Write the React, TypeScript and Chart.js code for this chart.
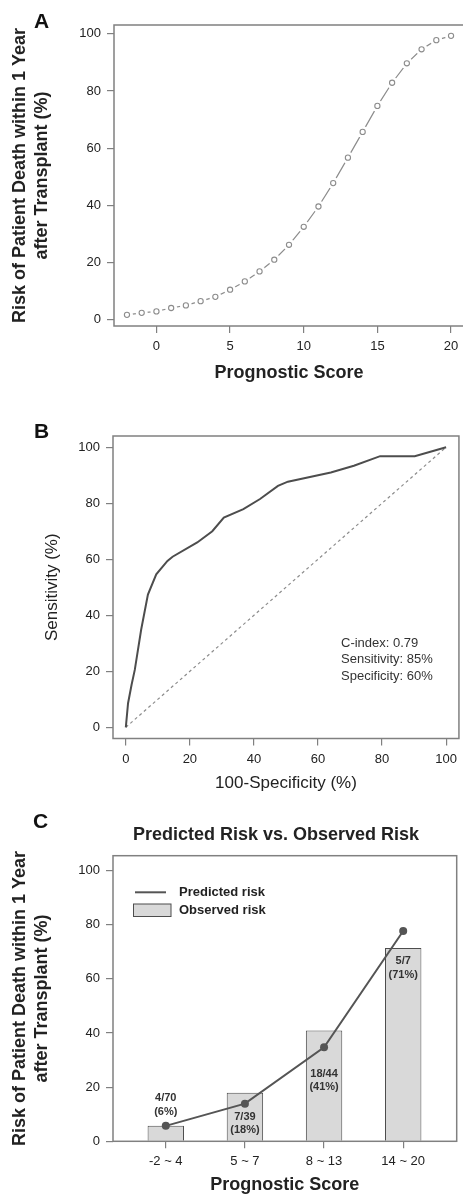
import React, { useEffect, useRef } from "react";
import { Chart, registerables } from "chart.js";

Chart.register(...registerables);

const FONT = "'Liberation Sans', Arial, Helvetica, sans-serif";

// ---------- Panel A: prognostic score vs predicted risk ----------
const scoreValues = [-2, -1, 0, 1, 2, 3, 4, 5, 6, 7, 8, 9, 10, 11, 12, 13, 14, 15, 16, 17, 18, 19, 20];
const riskValues = [1.7, 2.4, 2.9, 4.1, 5.0, 6.5, 8.0, 10.5, 13.4, 16.9, 21.0, 26.2, 32.5, 39.6, 47.8, 56.7, 65.7, 74.8, 82.9, 89.7, 94.6, 97.8, 99.3];
const scoreTicks = [0, 5, 10, 15, 20];
const riskTicks = [0, 20, 40, 60, 80, 100];

// ---------- Panel B: ROC curve ----------
const fprValues = [0, 0.7, 1.8, 2.8, 4.8, 6.9, 9.5, 13, 14.6, 22.3, 27, 30.6, 36.7, 41.9, 47.5, 50.6, 64, 71.2, 79.4, 90.2, 100];
const tprValues = [0, 8.6, 15.2, 20.5, 34.9, 47.4, 54.6, 59.4, 60.9, 66, 70, 74.9, 77.9, 81.5, 86.2, 87.7, 91, 93.4, 96.8, 96.8, 100];
const chanceLine = [0, 100];
const rocTicks = [0, 20, 40, 60, 80, 100];
const statLines = ["C-index: 0.79", "Sensitivity: 85%", "Specificity: 60%"];

// ---------- Panel C: predicted vs observed ----------
const scoreGroups = ["-2 ~ 4", "5 ~ 7", "8 ~ 13", "14 ~ 20"];
const observedRisk = [5.7, 17.9, 40.9, 71.4];
const predictedRisk = [5.7, 13.9, 34.7, 77.7];
const countLabels = ["4/70", "7/39", "18/44", "5/7"];
const pctLabels = ["(6%)", "(18%)", "(41%)", "(71%)"];
const labelAnchors = [15.9, 9.1, 24.9, 66.6];
const riskTicksC = [0, 20, 40, 60, 80, 100];

const AXIS_GRAY = "#808080";
const TEXT_DARK = "#222222";

type TextItem = { text: string; x: number; y: number; font: string; color?: string; align?: CanvasTextAlign; baseline?: CanvasTextBaseline };

function textPlugin(id: string, items: TextItem[]) {
  return {
    id,
    afterDraw(chart: any) {
      const ctx = chart.ctx as CanvasRenderingContext2D;
      ctx.save();
      for (const t of items) {
        ctx.font = t.font;
        ctx.fillStyle = t.color || TEXT_DARK;
        ctx.textAlign = t.align || "left";
        ctx.textBaseline = t.baseline || "middle";
        ctx.fillText(t.text, t.x, t.y);
      }
      ctx.restore();
    },
  };
}

function framePlugin(id: string) {
  return {
    id,
    afterDatasetsDraw(chart: any) {
      const { left, top, right, bottom } = chart.chartArea;
      const ctx = chart.ctx as CanvasRenderingContext2D;
      ctx.save();
      ctx.strokeStyle = AXIS_GRAY;
      ctx.lineWidth = 1.5;
      ctx.strokeRect(left, top, right - left, bottom - top);
      ctx.restore();
    },
  };
}

function axisCommon(ticksList: number[], extra: any) {
  return {
    type: "linear",
    afterBuildTicks: (s: any) => {
      s.ticks = ticksList.map((v) => ({ value: v }));
    },
    grid: { display: true, offset: false, drawOnChartArea: false, drawTicks: true, tickLength: 7, color: AXIS_GRAY, lineWidth: 1.2 },
    border: { display: false },
    ticks: { font: { family: FONT, size: 13 }, color: TEXT_DARK, padding: 6, maxRotation: 0, autoSkip: false },
    ...extra,
  };
}

export default function App() {
  const refA = useRef<HTMLCanvasElement>(null);
  const refB = useRef<HTMLCanvasElement>(null);
  const refC = useRef<HTMLCanvasElement>(null);

  useEffect(() => {
    const charts: Chart[] = [];

    // ----- Panel A -----
    const ptsA = scoreValues.map((x, i) => ({ x, y: riskValues[i] }));
    charts.push(
      new Chart(refA.current!, {
        type: "scatter",
        data: {
          datasets: [
            { data: ptsA, showLine: true, borderColor: "#8c8c8c", borderWidth: 1.2, pointRadius: 0, order: 3 } as any,
            { data: ptsA, showLine: false, pointRadius: 6, pointBackgroundColor: "#ffffff", pointBorderWidth: 0, pointBorderColor: "#ffffff", order: 2 } as any,
            { data: ptsA, showLine: false, pointRadius: 2.6, pointBackgroundColor: "#ffffff", pointBorderColor: "#8c8c8c", pointBorderWidth: 1.1, order: 1 } as any,
          ],
        },
        options: {
          responsive: false,
          animation: false,
          layout: { padding: { top: 25, left: 0, right: 4, bottom: 0 } },
          plugins: { legend: { display: false }, tooltip: { enabled: false }, title: { display: false } },
          scales: {
            x: axisCommon(scoreTicks, {
              min: -2.88,
              max: 20.88,
              afterFit: (s: any) => { s.height = 64; },
              title: { display: true, text: "Prognostic Score", color: TEXT_DARK, font: { family: FONT, size: 18, weight: "bold" }, padding: { top: 0, bottom: 6.2 } },
            }),
            y: axisCommon(riskTicks, {
              min: -2.2,
              max: 103.1,
              afterFit: (s: any) => { s.width = 114; },
              title: { display: true, text: ["Risk of Patient Death within 1 Year", "after Transplant (%)"], color: TEXT_DARK, font: { family: FONT, size: 18, weight: "bold", lineHeight: 1.222 }, padding: { top: 9, bottom: 0 } },
            }),
          } as any,
        },
        plugins: [
          framePlugin("frameA"),
          textPlugin("textA", [{ text: "A", x: 34, y: 28, font: `bold 21px ${FONT}`, baseline: "alphabetic", color: "#111" }]),
        ],
      })
    );

    // ----- Panel B -----
    const rocPts = fprValues.map((x, i) => ({ x, y: tprValues[i] }));
    const diagPts = chanceLine.map((v) => ({ x: v, y: v }));
    charts.push(
      new Chart(refB.current!, {
        type: "scatter",
        data: {
          datasets: [
            { data: rocPts, showLine: true, borderColor: "#4d4d4d", borderWidth: 2, pointRadius: 0, order: 1 } as any,
            { data: diagPts, showLine: true, borderColor: "#8c8c8c", borderWidth: 1.2, borderDash: [3, 3], pointRadius: 0, order: 2 } as any,
          ],
        },
        options: {
          responsive: false,
          animation: false,
          layout: { padding: { top: 56, left: 0, right: 1, bottom: 0 } },
          plugins: { legend: { display: false }, tooltip: { enabled: false }, title: { display: false } },
          scales: {
            x: axisCommon(rocTicks, {
              min: -4,
              max: 104,
              afterFit: (s: any) => { s.height = 56.5; },
              title: { display: true, text: "100-Specificity (%)", color: TEXT_DARK, font: { family: FONT, size: 17 }, padding: { top: 0, bottom: 1.8 } },
            }),
            y: axisCommon(rocTicks, {
              min: -4,
              max: 104,
              afterFit: (s: any) => { s.width = 113; },
              title: { display: true, text: "Sensitivity (%)", color: TEXT_DARK, font: { family: FONT, size: 17 }, padding: { top: 41.8, bottom: 0 } },
            }),
          } as any,
        },
        plugins: [
          framePlugin("frameB"),
          textPlugin("textB", [
            { text: "B", x: 34, y: 58, font: `bold 21px ${FONT}`, baseline: "alphabetic", color: "#111" },
            ...statLines.map((t, i) => ({ text: t, x: 341, y: 263 + i * 16.5, font: `13px ${FONT}`, color: "#333" })),
          ]),
        ],
      })
    );

    // ----- Panel C -----
    const groupPos = scoreGroups.map((_, i) => i + 1);
    const barPts = groupPos.map((x, i) => ({ x, y: observedRisk[i] }));
    const predPts = groupPos.map((x, i) => ({ x, y: predictedRisk[i] }));
    const barLabelPlugin = {
      id: "barLabels",
      afterDatasetsDraw(chart: any) {
        const ctx = chart.ctx as CanvasRenderingContext2D;
        const xs = chart.scales.x;
        const ys = chart.scales.y;
        ctx.save();
        ctx.font = `bold 11px ${FONT}`;
        ctx.fillStyle = "#333";
        ctx.textAlign = "center";
        ctx.textBaseline = "middle";
        groupPos.forEach((g, i) => {
          const px = xs.getPixelForValue(g);
          const py = ys.getPixelForValue(labelAnchors[i]);
          ctx.fillText(countLabels[i], px, py);
          ctx.fillText(pctLabels[i], px, py + 13.5);
        });
        ctx.restore();
      },
    };
    const legendPlugin = {
      id: "legendC",
      afterDraw(chart: any) {
        const ctx = chart.ctx as CanvasRenderingContext2D;
        ctx.save();
        ctx.strokeStyle = "#555";
        ctx.lineWidth = 2;
        ctx.beginPath();
        ctx.moveTo(135, 102.3);
        ctx.lineTo(166, 102.3);
        ctx.stroke();
        ctx.fillStyle = "#d9d9d9";
        ctx.fillRect(133.5, 114, 37.5, 12.5);
        ctx.strokeStyle = "#4d4d4d";
        ctx.lineWidth = 1;
        ctx.strokeRect(133.5, 114, 37.5, 12.5);
        ctx.fillStyle = TEXT_DARK;
        ctx.font = `bold 13px ${FONT}`;
        ctx.textAlign = "left";
        ctx.textBaseline = "middle";
        ctx.fillText("Predicted risk", 179, 102.5);
        ctx.fillText("Observed risk", 179, 120.5);
        ctx.restore();
      },
    };
    charts.push(
      new Chart(refC.current!, {
        type: "bar",
        data: {
          datasets: [
            {
              type: "line",
              data: predPts,
              borderColor: "#555555",
              borderWidth: 2,
              pointRadius: 4,
              pointBackgroundColor: "#555555",
              pointBorderWidth: 0,
              tension: 0,
              order: 0,
            } as any,
            {
              type: "bar",
              data: barPts,
              backgroundColor: "#d9d9d9",
              borderColor: "#4d4d4d",
              borderWidth: 1,
              barPercentage: 0.46,
              categoryPercentage: 1,
              order: 1,
            } as any,
          ],
        },
        options: {
          responsive: false,
          animation: false,
          layout: { padding: { top: 65.7, left: 0, right: 6.3, bottom: 0 } },
          plugins: { legend: { display: false }, tooltip: { enabled: false }, title: { display: false } },
          scales: {
            x: axisCommon(groupPos, {
              min: 0.333,
              max: 4.676,
              offset: false,
              afterFit: (s: any) => { s.height = 58.7; },
              ticks: {
                font: { family: FONT, size: 13 },
                color: TEXT_DARK,
                padding: 5.6,
                maxRotation: 0,
                autoSkip: false,
                callback: (v: any) => scoreGroups[Math.round(Number(v)) - 1] ?? "",
              },
              title: { display: true, text: "Prognostic Score", color: TEXT_DARK, font: { family: FONT, size: 18, weight: "bold" }, padding: { top: 0, bottom: 4.2 } },
            }),
            y: axisCommon(riskTicksC, {
              min: 0,
              max: 105.5,
              afterFit: (s: any) => { s.width = 113; },
              title: { display: true, text: ["Risk of Patient Death within 1 Year", "after Transplant (%)"], color: TEXT_DARK, font: { family: FONT, size: 18, weight: "bold", lineHeight: 1.222 }, padding: { top: 9, bottom: 0 } },
            }),
          } as any,
        },
        plugins: [
          framePlugin("frameC"),
          barLabelPlugin,
          legendPlugin,
          textPlugin("textC", [
            { text: "C", x: 33, y: 38, font: `bold 21px ${FONT}`, baseline: "alphabetic", color: "#111" },
            { text: "Predicted Risk vs. Observed Risk", x: 276, y: 45, font: `bold 18px ${FONT}`, align: "center" },
          ]),
        ],
      })
    );

    return () => {
      charts.forEach((c) => c.destroy());
    };
  }, []);

  return (
    <div style={{ position: "absolute", left: 0, top: 0, width: 463, height: 1194, overflow: "hidden", background: "#ffffff" }}>
      <canvas ref={refA} width={470} height={390} style={{ position: "absolute", left: 0, top: 0 }} />
      <canvas ref={refB} width={463} height={415} style={{ position: "absolute", left: 0, top: 380 }} />
      <canvas ref={refC} width={463} height={410} style={{ position: "absolute", left: 0, top: 790 }} />
    </div>
  );
}
